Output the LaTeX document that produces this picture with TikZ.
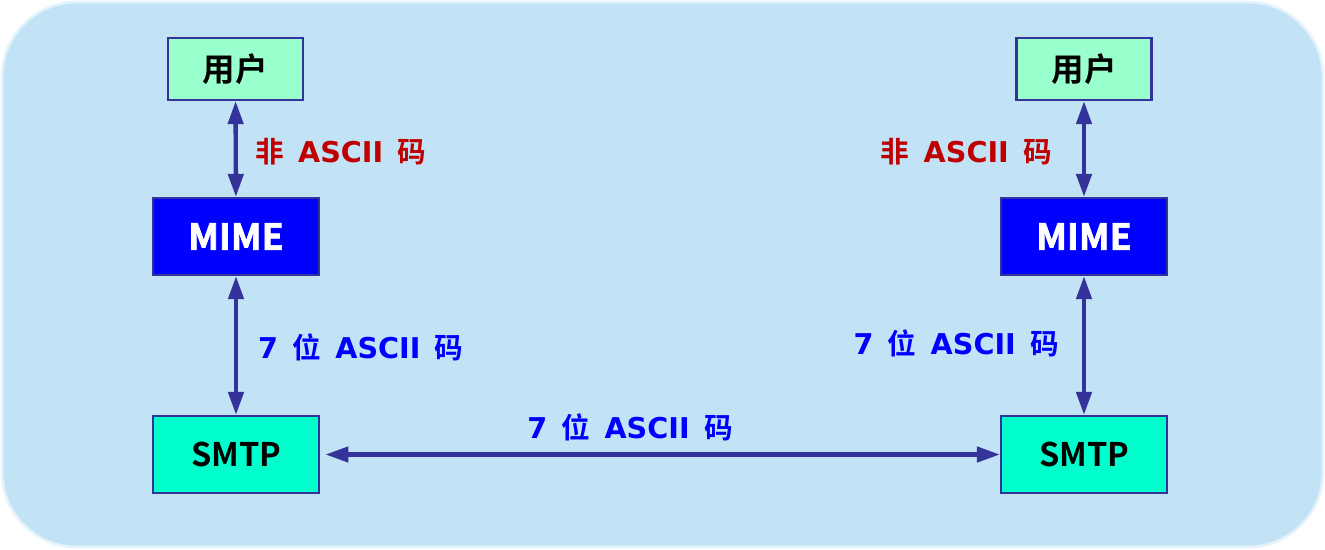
\documentclass[tikz,border=0pt]{standalone}
\usepackage{fontspec}
\setmainfont{DejaVu Sans}
\newfontfamily\cjk{Noto Sans CJK SC}[BoldFont={Noto Sans CJK SC Bold}]
\newfontfamily\cjkheavy{Noto Sans CJK SC Bold}[FakeBold=2]
\usepackage{tikz}
\usetikzlibrary{arrows.meta,positioning}

\definecolor{panelblue}{HTML}{C2E2F6}
\definecolor{paneledge}{HTML}{E4F3FC}
\definecolor{linkblue}{HTML}{333399}
\definecolor{userfill}{HTML}{99FFCC}
\definecolor{smtpfill}{HTML}{00FFCC}
\definecolor{codered}{HTML}{C00000}

\tikzset{
    box/.style={draw=linkblue, line width=1.2pt, font=\cjk\bfseries\fontsize{18.5}{20}\selectfont},
    userbox/.style={box, fill=userfill, minimum width=2.7cm, minimum height=1.24cm},
    mimebox/.style={box, fill=blue, text=white, minimum width=3.32cm, minimum height=1.54cm, font=\cjkheavy\fontsize{20.5}{22}\selectfont},
    smtpbox/.style={box, fill=smtpfill, minimum width=3.32cm, minimum height=1.54cm},
    link/.style={linkblue, line width=2.5pt, {Triangle[length=0.46cm,width=0.3cm]}-{Triangle[length=0.46cm,width=0.3cm]}},
    codelabel/.style={font=\bfseries\fontsize{16.3}{19}\selectfont}
}
\newcommand{\hz}[1]{{\cjk\bfseries #1}}
\newcommand{\gap}{\hspace{0.5em}}

\begin{document}
\begin{tikzpicture}[x=0.02cm, y=-0.02cm]
    \useasboundingbox (0,0) rectangle (1325,549);

    % Panel
    \draw[paneledge, line width=1.5pt, fill=panelblue, rounded corners=1.5cm] (2,2) rectangle (1323,547);

    % Left side
    \node[userbox] (userL) at (235.5,69) {用户};
    \node[mimebox] (mimeL) at (236,236.5) {MIME};
    \node[smtpbox] (smtpL) at (236,454.5) {SMTP};

    % Right side
    \node[userbox] (userR) at (1084,69) {用户};
    \node[mimebox] (mimeR) at (1084,236.5) {MIME};
    \node[smtpbox] (smtpR) at (1084,454.5) {SMTP};

    % Links
    \draw[link] (userL) -- (mimeL);
    \draw[link] (mimeL) -- (smtpL);
    \draw[link] (userR) -- (mimeR);
    \draw[link] (mimeR) -- (smtpR);
    \draw[link] ([xshift=3]smtpL.east) -- (smtpR.west);

    % Labels
    \node[codelabel, text=codered, anchor=west] (nonL) at (249,152) {\hz{非}\gap ASCII\gap\hz{码}};
    \node[codelabel, text=codered, anchor=east] (nonR) at (1058,152) {\hz{非}\gap ASCII\gap\hz{码}};
    \node[codelabel, text=blue, anchor=west] (sevenL) at (252,347) {7\gap\hz{位}\gap ASCII\gap\hz{码}};
    \node[codelabel, text=blue, anchor=east] (sevenR) at (1065,343) {7\gap\hz{位}\gap ASCII\gap\hz{码}};
    \node[codelabel, text=blue] (sevenM) at (630,427) {7\gap\hz{位}\gap ASCII\gap\hz{码}};
\end{tikzpicture}
\end{document}
